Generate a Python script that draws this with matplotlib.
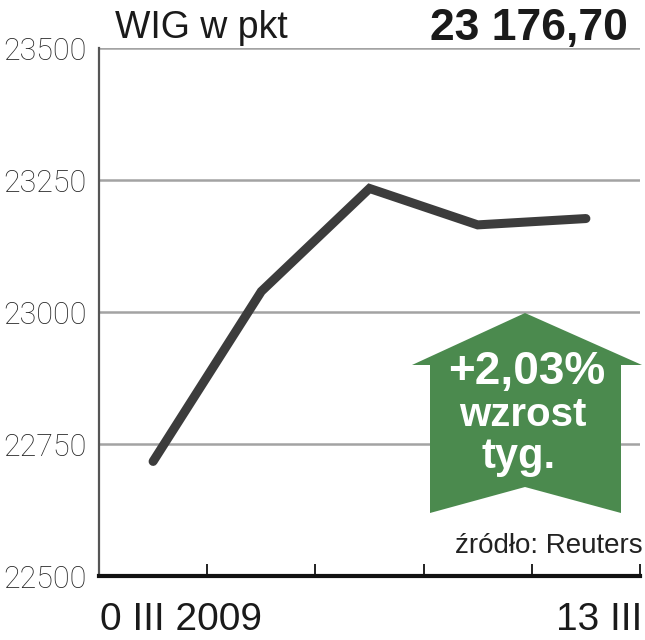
import matplotlib
matplotlib.use("Agg")
import matplotlib.pyplot as plt
from matplotlib import font_manager
from matplotlib.patches import Polygon

# data
days = [0.5, 1.5, 2.5, 3.5, 4.5]
wig = [22717, 23039, 23234, 23165, 23177]
y_ticks = [22500, 22750, 23000, 23250, 23500]
x_ticks = [0, 1, 2, 3, 4, 5]
title = "WIG w pkt"
last_value = "23 176,70"
first_label = "0 III 2009"
last_label = "13 III"
change_lines = ["+2,03%", "wzrost", "tyg."]
source = "źródło: Reuters"

W, H = 645, 640
names = {f.name for f in font_manager.fontManager.ttflist}
narrow = "Liberation Sans Narrow" if "Liberation Sans Narrow" in names else "Liberation Sans"
light = "Roboto" if "Roboto" in names else "Liberation Sans"


def fx(px):
    return px / W


def fy(py):
    return 1 - py / H


fig = plt.figure(figsize=(W / 100, H / 100), dpi=100)
ax = fig.add_axes([fx(99), fy(576), fx(640) - fx(99), fy(48) - fy(576)])

ax.set_xlim(0, 5)
ax.set_ylim(22500, 23500)

# gridlines
for v in y_ticks[1:]:
    ax.axhline(v, color="#a3a3a3", lw=1.8, zorder=1)

ax.plot(days, wig, color="#3c3c3c", lw=6.5, solid_capstyle="round",
        solid_joinstyle="miter", zorder=3)

for s in ["top", "right"]:
    ax.spines[s].set_visible(False)
ax.spines["left"].set_color("#555555")
ax.spines["left"].set_linewidth(1.6)
ax.spines["bottom"].set_color("#111111")
ax.spines["bottom"].set_linewidth(3)

ax.set_yticks(y_ticks)
ax.set_yticklabels([str(v) for v in y_ticks], fontsize=22, color="#262626",
                   family=light, fontweight="light")
ax.tick_params(axis="y", length=0, pad=9)
ax.set_xticks(x_ticks)
ax.set_xticklabels([])
ax.tick_params(axis="x", direction="in", length=9, width=1.3, color="#111111")

# arrow with weekly change
arrow_pts = [(412, 365), (525, 313), (642, 365), (621, 365), (621, 513),
             (525, 487), (430, 513), (430, 365)]
arrow = Polygon([(fx(x), fy(y)) for x, y in arrow_pts], closed=True,
                transform=fig.transFigure, facecolor="#4b8a4e", edgecolor="none",
                zorder=5)
fig.add_artist(arrow)
fig.text(fx(527), fy(384), change_lines[0], color="white", fontsize=33,
         fontweight="bold", family=narrow, ha="center", va="baseline", zorder=6)
fig.text(fx(523), fy(426), change_lines[1], color="white", fontsize=29,
         fontweight="bold", family=narrow, ha="center", va="baseline", zorder=6)
fig.text(fx(519), fy(468), change_lines[2], color="white", fontsize=30,
         fontweight="bold", family=narrow, ha="center", va="baseline", zorder=6)

# header, labels and source
fig.text(fx(115), fy(38), title, fontsize=27, family=narrow, color="#1a1a1a",
         va="baseline")
fig.text(fx(628), fy(40), last_value, fontsize=32, family=narrow,
         fontweight="bold", color="#1a1a1a", ha="right", va="baseline")
fig.text(fx(100), fy(630), first_label, fontsize=28, family=narrow,
         color="#1a1a1a", va="baseline")
fig.text(fx(642), fy(630), last_label, fontsize=28, family=narrow,
         color="#1a1a1a", ha="right", va="baseline")
fig.text(fx(643), fy(553), source, fontsize=20, family=narrow,
         color="#222222", ha="right", va="baseline")

fig.savefig("out.png", dpi=100)
